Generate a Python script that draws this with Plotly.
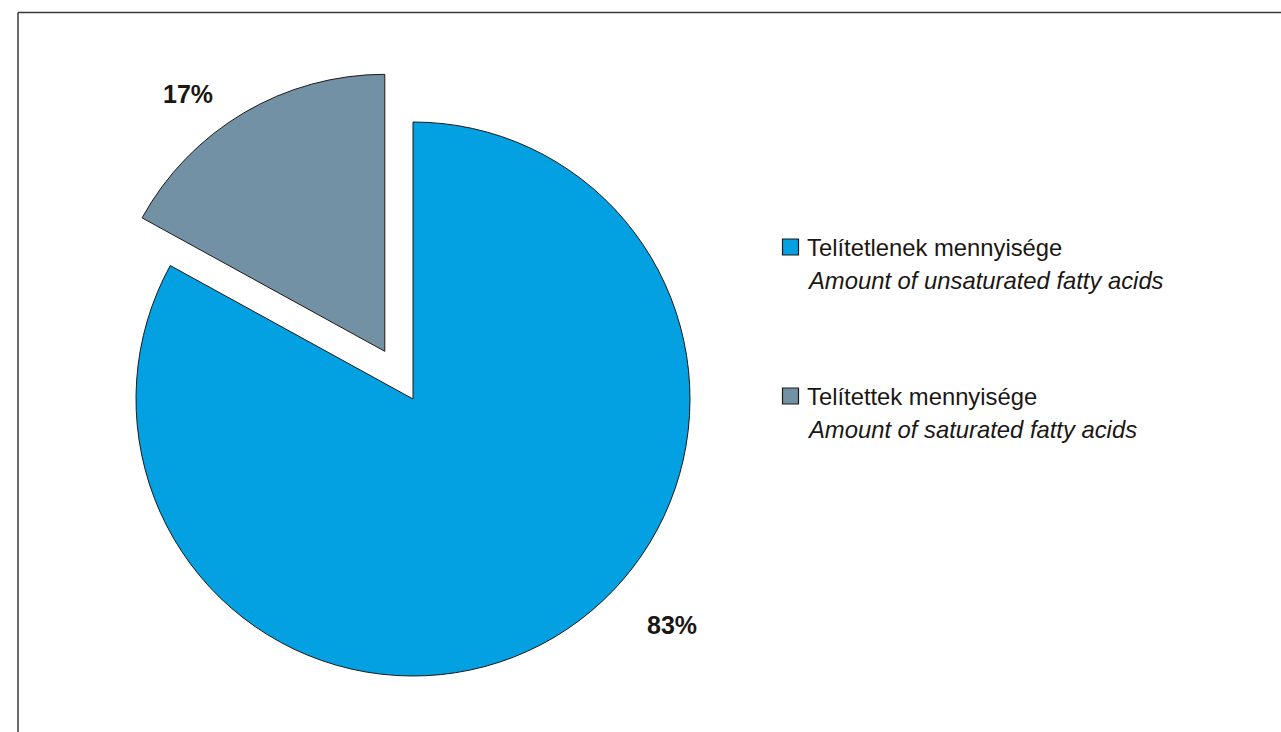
import plotly.graph_objects as go

# Fatty acid composition
labels_hu = ["Telítetlenek mennyisége", "Telítettek mennyisége"]
labels_en = ["Amount of unsaturated fatty acids", "Amount of saturated fatty acids"]
values = [83, 17]
colors = ["#03A0E2", "#7391A4"]
pulls = [0, 0.2]

W, H = 1281, 732


def px_x(x):
    return x / W


def px_y(y):
    return 1 - y / H


fig = go.Figure()

fig.add_trace(go.Pie(
    labels=labels_hu,
    values=values,
    sort=False,
    direction="clockwise",
    rotation=0,
    pull=pulls,
    marker=dict(colors=colors, line=dict(color="#1a1a1a", width=1)),
    textinfo="none",
    hoverinfo="label+percent",
    showlegend=False,
    domain=dict(x=[px_x(80.6), px_x(745.4)], y=[px_y(731.4), px_y(66.6)]),
))

label_font = dict(family="Liberation Sans, Arial, sans-serif", size=25, color="#1a1714")
legend_font = dict(family="Liberation Sans, Arial, sans-serif", size=23.8, color="#1a1714")

# Percentage labels outside the slices
pct_pos = [(672, 625), (188, 94)]
annotations = []
for v, (x, y) in zip(values, pct_pos):
    annotations.append(dict(
        x=px_x(x), y=px_y(y), xref="paper", yref="paper",
        text=f"<b>{v}%</b>", showarrow=False,
        xanchor="center", yanchor="middle", font=label_font,
    ))

# Legend: coloured swatch plus a Hungarian / English (italic) label pair
legend_rows = [247, 396]
shapes = []
for hu, en, col, y in zip(labels_hu, labels_en, colors, legend_rows):
    shapes.append(dict(
        type="rect", xref="paper", yref="paper",
        x0=px_x(782.5), x1=px_x(798.5), y0=px_y(y + 8), y1=px_y(y - 8),
        fillcolor=col, line=dict(color="#1a1a1a", width=1.2),
    ))
    annotations.append(dict(
        x=px_x(805), y=px_y(y), xref="paper", yref="paper",
        text=hu, showarrow=False, xanchor="left", yanchor="middle",
        font=legend_font,
    ))
    annotations.append(dict(
        x=px_x(805), y=px_y(y + 33), xref="paper", yref="paper",
        text=f"<i>{en}</i>", showarrow=False, xanchor="left", yanchor="middle",
        font=legend_font,
    ))

# Frame lines along the top and left edges
frame = dict(color="#3a3a3a", width=1.5)
shapes.append(dict(type="line", xref="paper", yref="paper",
                   x0=px_x(18), x1=1.0, y0=px_y(12.5), y1=px_y(12.5), line=frame))
shapes.append(dict(type="line", xref="paper", yref="paper",
                   x0=px_x(18), x1=px_x(18), y0=px_y(12.5), y1=0.0, line=frame))

fig.update_layout(
    width=W, height=H,
    margin=dict(l=0, r=0, t=0, b=0),
    paper_bgcolor="white",
    plot_bgcolor="white",
    annotations=annotations,
    shapes=shapes,
)

fig.write_html("out.html")
